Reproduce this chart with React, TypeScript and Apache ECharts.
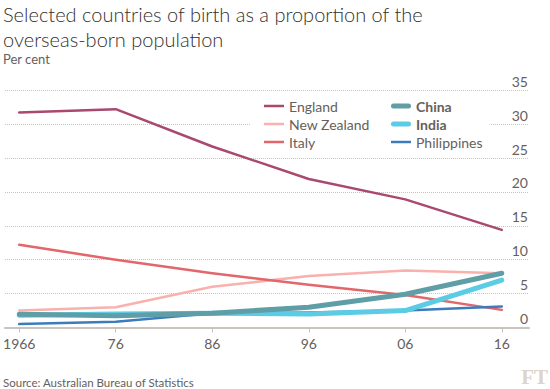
import React, { useEffect, useRef } from "react";
import * as echarts from "echarts";

const years = [1966, 1976, 1986, 1996, 2006, 2016];
const yearLabels = ["1966", "76", "86", "96", "06", "16"];
const england = [31.7, 32.2, 26.7, 21.9, 18.9, 14.4];
const newZealand = [2.5, 3.0, 6.0, 7.6, 8.4, 8.0];
const italy = [12.2, 10.0, 8.0, 6.3, 4.8, 2.6];
const china = [1.95, 1.75, 2.1, 3.0, 4.9, 8.0];
const india = [1.8, 2.0, 2.1, 2.0, 2.5, 7.0];
const philippines = [0.5, 0.85, 2.1, 2.2, 2.5, 3.1];

const FONT = "Lato";
const THIN_ICON = "path://M0,0 M0,5.75 L20,5.75 L20,8.25 L0,8.25 Z M20,14";
const THICK_ICON =
  "path://M0,0 M2.5,4.5 L17.5,4.5 A2.5,2.5 0 0 1 17.5,9.5 L2.5,9.5 A2.5,2.5 0 0 1 2.5,4.5 Z M20,14";

function pairs(vals: number[]) {
  return years.map((y, i) => [y, vals[i]]);
}

export default function App() {
  const ref = useRef<HTMLDivElement>(null);
  useEffect(() => {
    if (!ref.current) return;
    const chart = echarts.init(ref.current, undefined, { renderer: "svg" });
    const mk = (name: string, data: number[], color: string, width: number, z: number) => ({
      name,
      type: "line",
      data: pairs(data),
      symbol: "none",
      z,
      lineStyle: { color, width, cap: "round", join: "round" },
      itemStyle: { color },
    });
    const legendCommon = {
      orient: "vertical",
      itemWidth: 20,
      itemHeight: 14,
      itemGap: 4,
      backgroundColor: "#fff",
      textStyle: { fontFamily: FONT, fontSize: 14, color: "#66605c" },
    };
    chart.setOption({
      animation: false,
      textStyle: { fontFamily: FONT },
      title: [
        {
          text: "Selected countries of birth as a proportion of the\noverseas-born population",
          left: 3,
          top: 1,
          padding: 0,
          textStyle: {
            fontFamily: FONT,
            fontSize: 20,
            fontWeight: 300,
            color: "#33302e",
            lineHeight: 25,
          },
        },
        {
          text: "Per cent",
          left: 3,
          top: 52,
          padding: 0,
          textStyle: { fontFamily: FONT, fontSize: 13, fontWeight: "normal", color: "#66605c" },
        },
        {
          text: "Source: Australian Bureau of Statistics",
          left: 3,
          top: 376,
          padding: 0,
          textStyle: { fontFamily: FONT, fontSize: 11.5, fontWeight: "normal", color: "#66605c" },
        },
      ],
      graphic: [
        {
          type: "text",
          right: 2,
          bottom: 2,
          style: {
            text: "FT",
            font: "bold 21px 'Liberation Serif', serif",
            fill: "#ddd3c9",
          },
        },
      ],
      legend: [
        {
          ...legendCommon,
          left: 250,
          top: 97,
          padding: [2, 20, 2, 14],
          data: [
            { name: "England", icon: THIN_ICON },
            { name: "New Zealand", icon: THIN_ICON },
            { name: "Italy", icon: THIN_ICON },
          ],
        },
        {
          ...legendCommon,
          left: 390,
          top: 97,
          padding: [2, 7, 2, 1],
          data: [
            { name: "China", icon: THICK_ICON, textStyle: { fontWeight: "bold" } },
            { name: "India", icon: THICK_ICON, textStyle: { fontWeight: "bold" } },
            { name: "Philippines", icon: THIN_ICON },
          ],
        },
      ],
      grid: { left: 3, right: 21, top: 90.2, bottom: 61.5, containLabel: false },
      xAxis: {
        type: "value",
        min: 1964.52,
        max: 2018.82,
        axisLine: { show: true, lineStyle: { color: "#c8c3bc", width: 2 } },
        axisTick: {
          show: true,
          customValues: years,
          length: 5,
          lineStyle: { color: "#c8c3bc", width: 1 },
        },
        axisLabel: {
          customValues: years,
          formatter: (v: number) => yearLabels[years.indexOf(Math.round(v))] ?? "",
          fontFamily: FONT,
          fontSize: 14,
          color: "#66605c",
          margin: 9,
        },
        splitLine: { show: false },
      },
      yAxis: {
        type: "value",
        position: "right",
        min: 0,
        max: 35,
        interval: 5,
        axisLine: { show: false },
        axisTick: { show: false },
        axisLabel: {
          inside: true,
          margin: 1,
          verticalAlign: "bottom",
          padding: [0, 0, 2, 0],
          fontFamily: FONT,
          fontSize: 14,
          color: "#66605c",
        },
        splitLine: { show: true, lineStyle: { type: "dotted", color: "#c9c0b5", width: 1 } },
      },
      series: [
        mk("England", england, "#a9496f", 2.5, 2),
        mk("New Zealand", newZealand, "#f8b1ad", 2.5, 2),
        mk("Italy", italy, "#e2666a", 2.5, 2),
        mk("Philippines", philippines, "#3c7cbc", 2.5, 3),
        mk("India", india, "#5ccbe5", 5, 4),
        mk("China", china, "#5f9ea7", 5, 5),
      ],
    });
    return () => chart.dispose();
  }, []);
  return (
    <div
      ref={ref}
      style={{ position: "fixed", left: 0, top: 0, width: 550, height: 389, background: "#fff" }}
    />
  );
}
